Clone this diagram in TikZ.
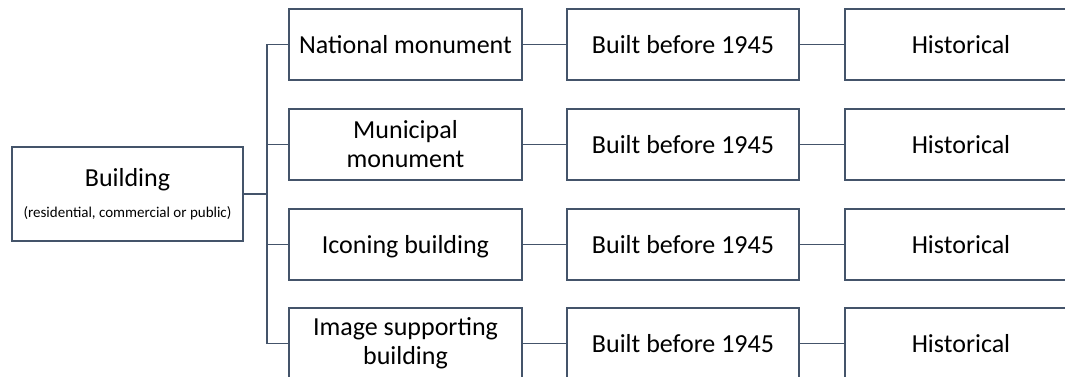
\documentclass[tikz,border=0pt]{standalone}
\usepackage{fontspec}
\setmainfont{Carlito}
\definecolor{edge}{HTML}{44546A}
\begin{document}
\begin{tikzpicture}[x=1pt,y=-1pt,
  box/.style={draw=edge,line width=1.3pt,fill=white,rectangle,
    minimum width=232pt,minimum height=71pt,inner sep=0pt,
    align=center,font=\fontsize{26}{29}\selectfont},
  oneline/.style={text height=20pt,text depth=2pt},
  link/.style={draw=edge,line width=1.3pt}]
\useasboundingbox (0,0) rectangle (1065,377);
\clip (0,0) rectangle (1065,377);

% root
\node[box,minimum width=231pt,minimum height=94pt] (bld) at (127.5,194)
  {Building\\[2pt]{\fontsize{15}{17}\selectfont(residential, commercial or public)}};

% rows: category, age, status
\node[box,oneline,minimum width=233pt] (c1) at (405.5,44.5) {National monument};
\node[box,minimum width=233pt] (c2) at (405.5,144.5) {Municipal\\monument};
\node[box,oneline,minimum width=233pt] (c3) at (405.5,244.5) {Iconing building};
\node[box,minimum width=233pt] (c4) at (405.5,343.5) {Image supporting\\building};

\foreach \i/\y in {1/44.5,2/144.5,3/244.5,4/343.5}{
  \node[box,oneline] (b\i) at (683,\y) {Built before 1945};
  \node[box,oneline] (h\i) at (961,\y) {Historical};
  \draw[link] (c\i.east) -- (b\i.west);
  \draw[link] (b\i.east) -- (h\i.west);
}

% trunk from the root to the four categories
\coordinate (tr) at (267,194);
\draw[link] (bld.east) -- (tr);
\foreach \i in {1,...,4}{
  \draw[link] (tr) |- (c\i.west);
}
\end{tikzpicture}
\end{document}
